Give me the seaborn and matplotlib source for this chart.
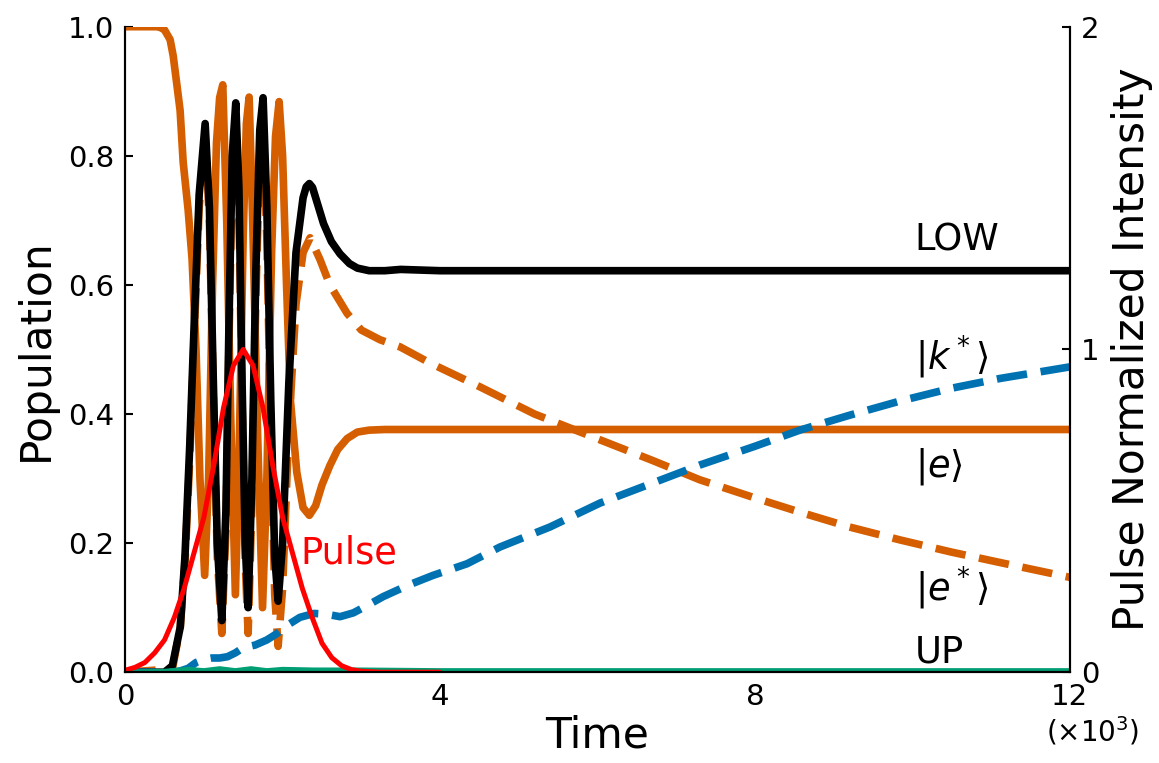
import seaborn as sns
import matplotlib.pyplot as plt
import matplotlib

sns.set_style('white')
matplotlib.rcParams['font.family'] = ['DejaVu Sans']
matplotlib.rcParams['mathtext.fontset'] = 'dejavusans'
matplotlib.rcParams['text.color'] = 'black'
matplotlib.rcParams['axes.labelcolor'] = 'black'
matplotlib.rcParams['xtick.color'] = 'black'
matplotlib.rcParams['ytick.color'] = 'black'
matplotlib.rcParams['axes.edgecolor'] = 'black'

# LOW population (black)
low_t = [0, 500, 600, 700, 760, 820, 880, 940, 1016, 1070, 1120, 1170, 1228, 1280, 1320, 1360, 1405,
         1445, 1485, 1525, 1562, 1610, 1660, 1710, 1752, 1800, 1850, 1900, 1943, 2000, 2080, 2170,
         2260, 2300, 2340, 2380, 2420, 2520, 2620, 2730, 2850, 2950, 3100, 3300, 3500, 4000, 6000, 8000,
         10000, 12000]
low_y = [0.0, 0.0, 0.01, 0.07, 0.18, 0.35, 0.55, 0.74, 0.85, 0.72, 0.45, 0.2, 0.08, 0.25, 0.55, 0.8, 0.882,
         0.75, 0.45, 0.2, 0.1, 0.3, 0.62, 0.84, 0.89, 0.72, 0.42, 0.18, 0.11, 0.2, 0.45, 0.65,
         0.735, 0.752, 0.757, 0.751, 0.735, 0.695, 0.667, 0.648, 0.633, 0.626, 0.622, 0.622, 0.624, 0.622,
         0.622, 0.622, 0.622, 0.622]

# |e> population (orange solid)
e_t = [0, 400, 444, 500, 571, 610, 660, 698, 737, 800, 850, 900, 950, 1010, 1060, 1110, 1160, 1200, 1240,
       1290, 1340, 1400, 1450, 1500, 1540, 1575, 1620, 1680, 1745, 1800, 1860, 1910, 1956, 2000, 2050,
       2100, 2180, 2260, 2340, 2420, 2500, 2600, 2700, 2820, 2950, 3100, 3300, 4000, 8000, 12000]
e_y = [1.0, 1.0, 0.999, 0.995, 0.98, 0.955, 0.907, 0.87, 0.79, 0.716, 0.64, 0.5, 0.3, 0.15, 0.3, 0.6, 0.82,
       0.89, 0.91, 0.7, 0.4, 0.12, 0.35, 0.68, 0.85, 0.891, 0.7, 0.38, 0.1, 0.3, 0.65, 0.83, 0.884, 0.8, 0.6,
       0.42, 0.31, 0.255, 0.243, 0.258, 0.29, 0.32, 0.345, 0.362, 0.372, 0.375, 0.376, 0.376, 0.376, 0.376]

# |e*> population (orange dashed)
es_t = [0, 600, 700, 760, 820, 880, 940, 1016, 1070, 1120, 1170, 1228, 1280, 1320, 1360, 1405, 1445, 1485,
        1525, 1562, 1610, 1660, 1710, 1752, 1800, 1850, 1900, 1943, 2000, 2080, 2170, 2260, 2349, 2476,
        2600, 2819, 3000, 3238, 3492, 3873, 4508, 5200, 6032, 6700, 7302, 8000, 8571, 9200, 9841, 10500,
        11111, 12000]
es_y = [0.0, 0.005, 0.07, 0.17, 0.33, 0.53, 0.72, 0.83, 0.7, 0.43, 0.18, 0.06, 0.22, 0.52, 0.77, 0.85, 0.72,
        0.42, 0.17, 0.06, 0.26, 0.58, 0.8, 0.84, 0.67, 0.37, 0.12, 0.04, 0.13, 0.38, 0.57, 0.65, 0.673, 0.639,
        0.6, 0.556, 0.53, 0.515, 0.504, 0.479, 0.442, 0.4, 0.36, 0.328, 0.298, 0.27, 0.248, 0.225, 0.205,
        0.186, 0.17, 0.147]

# |k*> population (blue dashed)
k_t = [0, 600, 700, 800, 900, 1000, 1100, 1200, 1300, 1400, 1500, 1650, 1800, 1930, 2050, 2220, 2400,
       2550, 2730, 2900, 3100, 3276, 3600, 3911, 4343, 4762, 5397, 6032, 6700, 7302, 8000, 8571, 9200,
       9841, 10500, 11111, 12000]
k_y = [0.0, 0.0, 0.002, 0.006, 0.015, 0.02, 0.022, 0.022, 0.024, 0.03, 0.038, 0.042, 0.05, 0.06, 0.072,
       0.085, 0.091, 0.09, 0.086, 0.092, 0.105, 0.117, 0.135, 0.15, 0.168, 0.194, 0.225, 0.262, 0.293,
       0.321, 0.35, 0.375, 0.398, 0.42, 0.44, 0.455, 0.473]

# UP population (green)
up_t = [0, 500, 800, 1000, 1200, 1400, 1600, 1800, 2000, 2400, 3000, 4000, 12000]
up_y = [0.0, 0.001, 0.004, 0.002, 0.005, 0.002, 0.005, 0.002, 0.004, 0.003, 0.003, 0.002, 0.002]

# Pulse normalized intensity (right axis)
pulse_t = [0, 125, 250, 375, 500, 625, 750, 875, 1000, 1125, 1250, 1375, 1500, 1625, 1750, 1875, 2000,
           2125, 2250, 2375, 2500, 2625, 2750, 2875, 3000, 3250, 3500, 4000]
pulse_y = [0.006, 0.015, 0.03, 0.06, 0.1, 0.17, 0.26, 0.37, 0.48, 0.64, 0.82, 0.95, 1.0, 0.95,
           0.82, 0.64, 0.48, 0.37, 0.26, 0.17, 0.09, 0.045, 0.02, 0.008, 0.003, 0.0, 0.0, 0.0]

x_ticks = [0, 4000, 8000, 12000]
x_ticklabels = ['0', '4', '8', '12']

orange = '#D55E00'
blue = '#0072B2'
green = '#009E73'
dash = (0, (4, 1.8))

fig = plt.figure(figsize=(11.59, 7.63), dpi=100)
ax = fig.add_axes([0.108, 0.119, 0.815, 0.846])
ax2 = ax.twinx()

sns.lineplot(x=es_t, y=es_y, ax=ax, color=orange, lw=5.5, linestyle=dash, legend=False)
sns.lineplot(x=e_t, y=e_y, ax=ax, color=orange, lw=5.5, legend=False)
sns.lineplot(x=low_t, y=low_y, ax=ax, color='black', lw=5.5, legend=False)
sns.lineplot(x=k_t, y=k_y, ax=ax, color=blue, lw=5.5, linestyle=dash, legend=False)
sns.lineplot(x=up_t, y=up_y, ax=ax, color=green, lw=4, legend=False)
sns.lineplot(x=pulse_t, y=pulse_y, ax=ax2, color='red', lw=3.6, legend=False)

ax.set_xlim(0, 12000)
ax.set_ylim(0, 1)
ax2.set_ylim(0, 2)
ax.set_xticks(x_ticks)
ax.set_xticklabels(x_ticklabels)
ax.set_yticks([0, 0.2, 0.4, 0.6, 0.8, 1.0])
ax2.set_yticks([0, 1, 2])

for a in (ax, ax2):
    a.spines['top'].set_visible(False)
    for s in a.spines.values():
        s.set_linewidth(1.5)
        s.set_color('black')
    a.tick_params(direction='in', length=6, width=1.5, labelsize=21, pad=8)

ax.set_xlabel('Time', fontsize=30.5, labelpad=2)
ax.set_ylabel('Population', fontsize=30.5, labelpad=8)
ax2.set_ylabel('Pulse Normalized Intensity', fontsize=30.5, labelpad=8)

ax.text(10030, 0.670, 'LOW', fontsize=26.5, va='center')
ax.text(10030, 0.487, r'$|k^*\rangle$', fontsize=26.5, va='center')
ax.text(10030, 0.318, r'$|e\rangle$', fontsize=26.5, va='center')
ax.text(10030, 0.130, r'$|e^*\rangle$', fontsize=26.5, va='center')
ax.text(10030, 0.031, 'UP', fontsize=26.5, va='center')
ax.text(2222, 0.185, 'Pulse', fontsize=26.5, va='center', color='red')
ax.text(1.024, -0.091, r'$(\times10^3)$', transform=ax.transAxes, fontsize=20,
        ha='center', va='center', clip_on=False)

plt.savefig('out.png', dpi=100)
